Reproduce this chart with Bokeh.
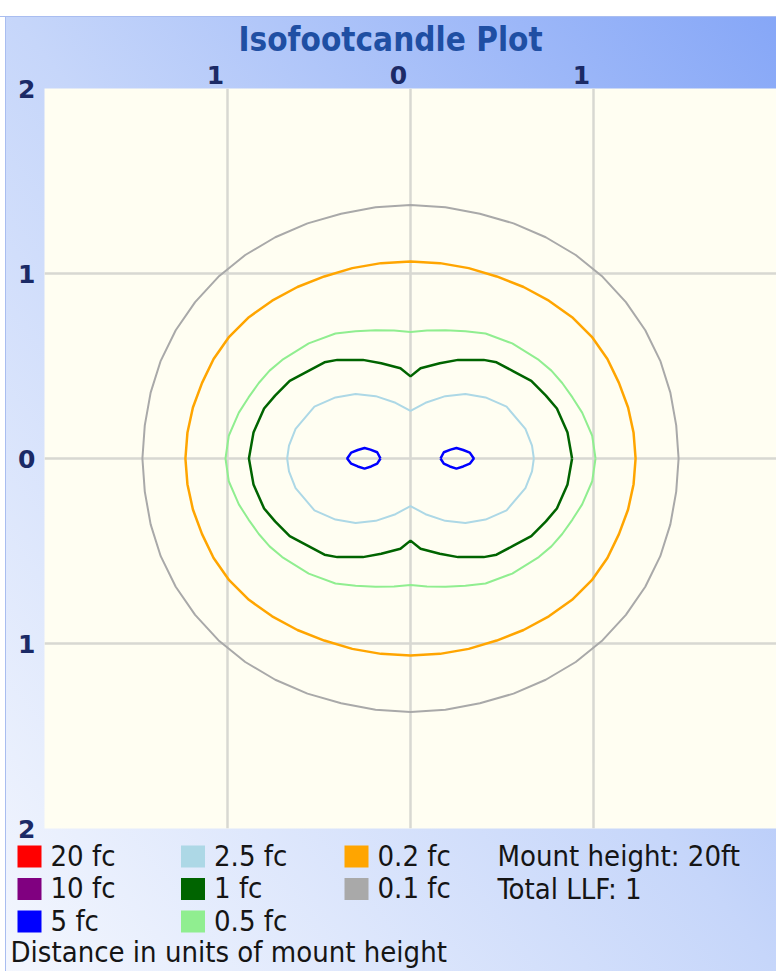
from bokeh.plotting import figure
from bokeh.layouts import column
from bokeh.models import (FixedTicker, CustomJSTickFormatter, Range1d, ColumnDataSource, LinearAxis)
from bokeh.core.properties import value
from bokeh.embed import file_html
from bokeh.resources import INLINE

# ---------------- data ----------------
title_text = "Isofootcandle Plot"
levels = ["20 fc", "10 fc", "5 fc", "2.5 fc", "1 fc", "0.5 fc", "0.2 fc", "0.1 fc"]
colors = ["#ff0000", "#800080", "#0000ff", "#add8e6", "#006400", "#90ee90", "#ffa500", "#a9a9a9"]
grid_ticks = [-1, 0, 1]
y_ticks = [-2, -1, 0, 1, 2]
info_lines = ["Mount height: 20ft", "Total LLF: 1"]
footer = "Distance in units of mount height"

# first-quadrant contour points (units of mount height); contours are symmetric
q01_x = [1.465, 1.452, 1.42, 1.365, 1.283, 1.177, 1.05, 0.903, 0.739, 0.563, 0.379, 0.191, 0.0]
q01_y = [0.0, 0.179, 0.356, 0.528, 0.693, 0.845, 0.982, 1.10, 1.196, 1.271, 1.323, 1.358, 1.37]
q02_x = [1.23, 1.219, 1.189, 1.139, 1.076, 0.991, 0.883, 0.756, 0.618, 0.471, 0.318, 0.161, 0.0]
q02_y = [0.0, 0.139, 0.276, 0.409, 0.538, 0.658, 0.764, 0.853, 0.927, 0.984, 1.029, 1.056, 1.065]
q05_x = [1.011, 0.993, 0.938, 0.885, 0.829, 0.77, 0.701, 0.556, 0.41, 0.30, 0.191, 0.09, 0.0]
q05_y = [0.0, 0.123, 0.248, 0.33, 0.408, 0.475, 0.533, 0.622, 0.676, 0.688, 0.693, 0.692, 0.684]
q1_x = [0.883, 0.858, 0.80, 0.74, 0.66, 0.565, 0.47, 0.40, 0.26, 0.16, 0.055, 0.0]
q1_y = [0.0, 0.14, 0.27, 0.34, 0.42, 0.47, 0.52, 0.533, 0.533, 0.515, 0.488, 0.444]
q25_x = [0.674, 0.664, 0.628, 0.525, 0.41, 0.30, 0.19, 0.082, 0.0]
q25_y = [0.0, 0.07, 0.16, 0.28, 0.33, 0.349, 0.337, 0.301, 0.257]
# 5 fc: outline of the right-hand island (left one is its mirror image)
b5_x = [0.164, 0.182, 0.219, 0.251, 0.288, 0.324, 0.346, 0.324, 0.288, 0.251, 0.215, 0.182, 0.164]
b5_y = [0.0, 0.034, 0.048, 0.057, 0.046, 0.032, 0.0, -0.028, -0.043, -0.055, -0.043, -0.028, 0.0]


def ring(qx, qy):
    xs = qx + [-v for v in qx[::-1]] + [-v for v in qx] + qx[::-1]
    ys = qy + qy[::-1] + [-v for v in qy] + [-v for v in qy[::-1]]
    return xs, ys


FONT = "DejaVu Sans Condensed"
TXT = "#151515"

# ---------------- main chart ----------------
p = figure(width=776, height=845, x_range=(-2, 2), y_range=(-2, 2),
           output_backend="svg", toolbar_location=None, x_axis_location=None,
           min_border_left=44, min_border_right=0, min_border_top=88, min_border_bottom=17,
           title=title_text, frame_align=False)
p.border_fill_color = None
p.background_fill_color = "#fffef2"
p.outline_line_color = None

p.title.align = "left"
p.title.offset = 194
p.title.text_font = FONT
p.title.text_font_size = "33px"
p.title.text_font_style = "bold"
p.title.text_color = "#1f4fa3"
p.title.standoff = 7

# the original draws its top labels a little left of each grid line
p.extra_x_ranges = {"top": Range1d(-1.934, 2.066)}
top_axis = LinearAxis(x_range_name="top")
p.add_layout(top_axis, "above")

fmt = CustomJSTickFormatter(code="return Math.abs(tick).toString()")
for ax in (top_axis, p.yaxis[0]):
    ax.formatter = fmt
    ax.axis_line_color = None
    ax.major_tick_line_color = None
    ax.minor_tick_line_color = None
    ax.major_tick_out = 0
    ax.major_tick_in = 0
    ax.major_label_text_font = "DejaVu Sans"
    ax.major_label_text_font_style = "bold"
    ax.major_label_text_font_size = "25px"
    ax.major_label_text_color = "#1b2a66"
top_axis.ticker = FixedTicker(ticks=grid_ticks)
top_axis.major_label_standoff = 5
p.yaxis[0].ticker = FixedTicker(ticks=y_ticks)
p.yaxis[0].major_label_standoff = 9
p.yaxis[0].major_label_orientation = "horizontal"

p.xgrid.ticker = FixedTicker(ticks=grid_ticks)
p.ygrid.ticker = FixedTicker(ticks=grid_ticks)
for g in (p.xgrid[0], p.ygrid[0]):
    g.grid_line_color = "#d8d8d2"
    g.grid_line_width = 2.5

c01x, c01y = ring(q01_x, q01_y)
c02x, c02y = ring(q02_x, q02_y)
c05x, c05y = ring(q05_x, q05_y)
c1x, c1y = ring(q1_x, q1_y)
c25x, c25y = ring(q25_x, q25_y)
p.line(c01x, c01y, line_color=colors[7], line_width=2)
p.line(c02x, c02y, line_color=colors[6], line_width=2.5)
p.line(c05x, c05y, line_color=colors[5], line_width=2)
p.line(c1x, c1y, line_color=colors[4], line_width=2.5)
p.line(c25x, c25y, line_color=colors[3], line_width=2)
p.line(b5_x, b5_y, line_color=colors[2], line_width=2.5)
p.line([-v for v in b5_x], b5_y, line_color=colors[2], line_width=2.5)

# ---------------- legend strip (pixel-like coordinates, y downward) ----------------
# overlaps the chart's transparent bottom border by 10px so no text box touches an edge
lg = figure(width=776, height=136, x_range=Range1d(0, 776), y_range=Range1d(136, 0),
            output_backend="svg", toolbar_location=None, title=None,
            x_axis_location=None, y_axis_location=None, frame_align=False,
            min_border_left=0, min_border_right=0, min_border_top=0, min_border_bottom=0,
            margin=(-10, 0, 0, 0))
lg.border_fill_color = None
lg.background_fill_color = None
lg.outline_line_color = None
lg.xgrid.visible = False
lg.ygrid.visible = False

COL_W, ROW_H = 163.5, 32.5
cols = [i // 3 for i in range(len(levels))]
rows = [i % 3 for i in range(len(levels))]
src = ColumnDataSource(dict(
    sx=[29 + c * COL_W for c in cols],
    sy=[21 + r * ROW_H for r in rows],
    tx=[50 + c * COL_W for c in cols],
    ty=[20 + r * ROW_H for r in rows],
    label=levels, color=colors))
lg.rect(x="sx", y="sy", width=24, height=22, fill_color="color", line_color=None, source=src)
lg.text(x="tx", y="ty", text="label", source=src, text_font=value(FONT), text_font_size="29px",
        text_color=TXT, text_baseline="alphabetic")
lg.text(x=[497, 497], y=[20, 53], text=info_lines, text_font=value(FONT), text_font_size="29px",
        text_color=TXT, text_baseline="alphabetic")
lg.text(x=[10], y=[116], text=[footer], text_font=value(FONT), text_font_size="29px",
        text_color=TXT, text_baseline="alphabetic")

bg = ("linear-gradient(#ffffff 0px, #ffffff 16px, #a9bdf0 16px, #a9bdf0 17px, transparent 17px), "
      "linear-gradient(to right, #ffffff 0px, #ffffff 5px, #a9bdf0 5px, #a9bdf0 6px, transparent 6px), "
      "linear-gradient(to top right, #f4f7fe 0%, #c6d6fa 50%, #85a6f7 100%)")
page = column(p, lg, spacing=0, styles={"background": bg})

open("out.html", "w").write(file_html(page, INLINE))
